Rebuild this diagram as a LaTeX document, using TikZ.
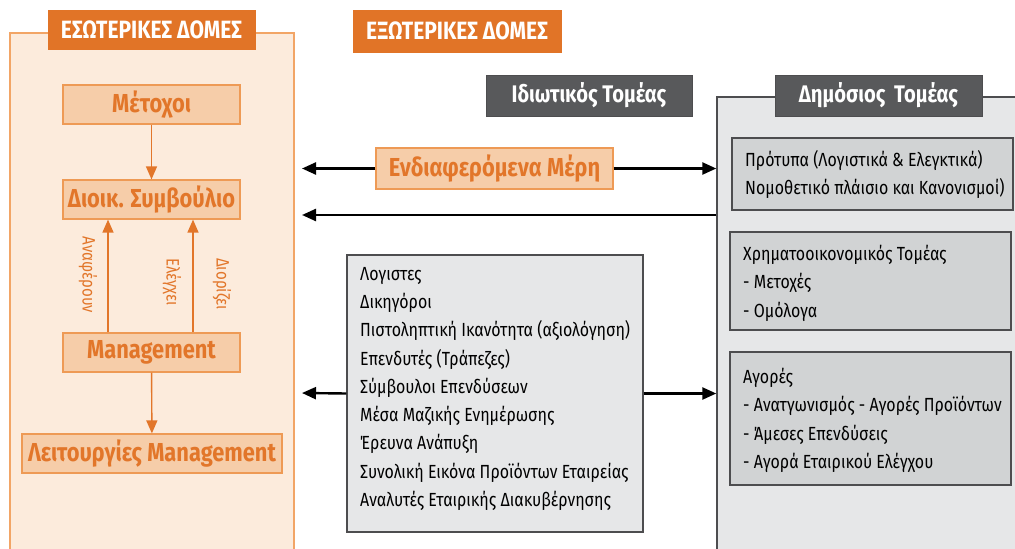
\documentclass[tikz,border=0pt]{standalone}
\usepackage{fontspec}
\setmainfont{Fira Sans}[FakeStretch=0.84]
\usetikzlibrary{arrows.meta}
\definecolor{otitle}{HTML}{E17427}
\definecolor{otext}{HTML}{E2762A}
\definecolor{peach}{HTML}{F6CDA9}
\definecolor{peachB}{HTML}{EE9A55}
\definecolor{panelO}{HTML}{FCEBDC}
\definecolor{panelOB}{HTML}{F2A566}
\definecolor{dgray}{HTML}{58595B}
\definecolor{lgray}{HTML}{E6E7E8}
\definecolor{mgray}{HTML}{D1D3D4}
\definecolor{bgray}{HTML}{4D4D4F}
\tikzset{
  x=1pt, y=-1pt,
  otitlebox/.style={draw=otitle, fill=otitle, text=white, font=\fontsize{25}{28}\selectfont\bfseries, inner sep=0pt, minimum height=39pt},
  obox/.style={draw=peachB, line width=1.2pt, fill=peach, text=otext, font=\fontsize{26}{28}\selectfont\bfseries, inner sep=0pt, minimum height=39pt},
  dbox/.style={draw=bgray, line width=1pt, fill=dgray, text=white, font=\fontsize{24}{28}\selectfont\bfseries, inner sep=0pt, minimum height=41pt},
  gbox/.style={draw=bgray, line width=1.2pt, fill=mgray, inner sep=0pt, text depth=0pt},
  gtext/.style={anchor=north west, align=left, font=\fontsize{19}{28.25}\selectfont, inner sep=0pt, text=black},
  oarr/.style={draw=otext, line width=1.4pt, -{Triangle[length=13pt,width=11pt]}},
  karr/.style={draw=black, line width=2.4pt, -{Triangle[length=14pt,width=12pt]}},
  vlab/.style={rotate=-90, text=otext, font=\fontsize{18}{20}\selectfont, inner sep=0pt},
}
\begin{document}
\begin{tikzpicture}
\useasboundingbox (0,0) rectangle (1015,549);
% panels
\node[draw=panelOB, line width=1.2pt, fill=panelO, minimum width=284pt, minimum height=527pt, inner sep=0pt] (intp) at (152,296.5) {};
\node[draw=bgray, line width=1.4pt, fill=lgray, minimum width=308pt, minimum height=463pt, inner sep=0pt] (pub) at (871,328.5) {};
% titles
\node[otitlebox, minimum width=207pt] (tint) at (151.5,29.5) {ΕΣΩΤΕΡΙΚΕΣ ΔΟΜΕΣ};
\node[otitlebox, minimum width=208pt, minimum height=42pt] (text) at (457,31) {ΕΞΩΤΕΡΙΚΕΣ ΔΟΜΕΣ};
\node[dbox, minimum width=206pt] (priv) at (589,95.5) {Ιδιωτικός Τομέας};
\node[dbox, minimum width=207pt] (pubt) at (878.5,95.5) {Δημόσιος\, Τομέας};
% internal boxes
\node[obox, minimum width=177pt] (share) at (151.5,104.5) {Μέτοχοι};
\node[obox, minimum width=177pt] (board) at (151.5,199.5) {Διοικ. Συμβούλιο};
\node[obox, minimum width=177pt] (mgmt) at (151.5,352.5) {Management};
\node[obox, minimum width=260pt] (func) at (152,453.5) {Λειτουργίες Management};
\draw[oarr] (share) -- (board);
\draw[oarr] (mgmt) -- (func);
\draw[oarr] ([xshift=-43.5pt]mgmt.north) -- ([xshift=-43.5pt]board.south);
\draw[oarr] ([xshift=41.5pt]mgmt.north) -- ([xshift=41.5pt]board.south);
\node[vlab] (l1) at (88,275) {Αναφέρουν};
\node[vlab] (l2) at (172,282) {Ελέγχει};
\node[vlab] (l3) at (222,284) {Διορίζει};
% stakeholders
\node[obox, minimum width=237pt, minimum height=41pt] (stake) at (494.5,168.5) {Ενδιαφερόμενα Μέρη};
\coordinate (e1) at (302,168.5);
\coordinate (e2) at (302,215);
\coordinate (e3) at (302,393);
\draw[karr] (stake.west) -- (e1);
\draw[karr] (stake.east) -- (stake.east -| pub.west);
\draw[karr] (e2 -| pub.west) -- (e2);
% private list
\node[gbox, fill=lgray, minimum width=296pt, minimum height=277pt] (plist) at (495,393.5) {};
\node[gtext] (plt) at (360,267) {Λογιστες\\Δικηγόροι\\Πιστοληπτική Ικανότητα (αξιολόγηση)\\Επενδυτές (Τράπεζες)\\Σύμβουλοι Επενδύσεων\\Μέσα Μαζικής Ενημέρωσης\\Έρευνα Ανάπυξη\\Συνολική Εικόνα Προϊόντων Εταιρείας\\Αναλυτές Εταιρικής Διακυβέρνησης};
\draw[karr] (plist.west) -- (e3);
\draw[karr] (plist.east) -- (plist.east -| pub.west);
% public boxes
\node[gbox, minimum width=281pt, minimum height=72pt] (std) at (872.5,174) {};
\node[gtext] (stdt) at (745,150) {Πρότυπα (Λογιστικά \& Ελεγκτικά)\\Νομοθετικό πλάισιο και Κανονισμοί)};
\node[gbox, minimum width=281pt, minimum height=98pt] (fin) at (870.5,281) {};
\node[gtext] (fint) at (743,245) {Χρηματοοικονομικός Τομέας\\- Μετοχές\\- Ομόλογα};
\node[gbox, minimum width=281pt, minimum height=133pt] (mkt) at (870.5,418.5) {};
\node[gtext] (mktt) at (743,368) {Αγορές\\- Ανατγωνισμός - Αγορές Προϊόντων\\- Άμεσες Επενδύσεις\\- Αγορά Εταιρικού Ελέγχου};
\end{tikzpicture}
\end{document}
